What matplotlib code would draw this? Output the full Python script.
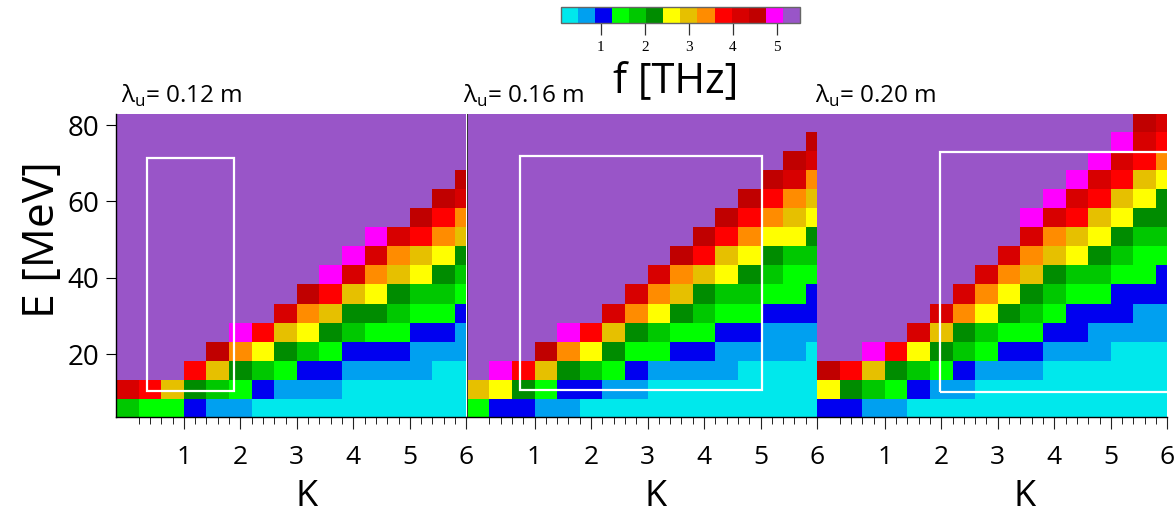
import numpy as np
import matplotlib
matplotlib.use('Agg')
import matplotlib.pyplot as plt
import matplotlib as mpl
from matplotlib.colors import ListedColormap, BoundaryNorm
from matplotlib.patches import Rectangle
from matplotlib.ticker import FixedLocator

plt.rcParams['font.family'] = ['Open Sans', 'DejaVu Sans']
plt.rcParams['mathtext.fontset'] = 'custom'
plt.rcParams['mathtext.rm'] = 'Open Sans'

# ---------------- data ----------------
K_values = [0.0, 0.4, 0.8, 1.2, 1.6, 2.0, 2.4, 2.8, 3.2, 3.6, 4.0, 4.4, 4.8, 5.2, 5.6, 6.0]
E_values = [6, 11, 16, 21, 26, 31, 36, 41, 46, 51, 56, 61, 66, 71, 76, 81]

# colour-bar bin edges (THz) and colours
f_edges = [0.09, 0.48, 0.87, 1.25, 1.64, 2.03, 2.42, 2.81, 3.20, 3.59, 3.98, 4.37, 4.75, 5.14, 5.53]
f_colors = ['#00E8EC', '#00A0F0', '#0000F0', '#00FF00', '#00C800', '#008C00', '#FFFF00',
            '#E6C000', '#FF8C00', '#FF0000', '#D80000', '#C00000', '#FF00FF', '#9955C8']
f_ticks = [1, 2, 3, 4, 5]

# frequency bin read per cell (rows from low E to high E; 0..9,a..d = bin index)
bins_012 = ["4332110000000000",
            "a975432111000000",
            "ddd9754322111100",
            "ddddb86543222111",
            "dddddc9765433221",
            "ddddddda87554332",
            "ddddddddb9765443",
            "dddddddddca87654",
            "ddddddddddca8765",
            "dddddddddddca987",
            "dddddddddddddb98",
            "ddddddddddddddba",
            "dddddddddddddddb",
            "dddddddddddddddd",
            "dddddddddddddddd",
            "dddddddddddddddd"]
bins_016 = ["3221100000000000",
            "7653221100000000",
            "dc97543211110000",
            "dddb865332211110",
            "ddddc97543322111",
            "dddddda865433222",
            "ddddddda87544332",
            "dddddddda8765433",
            "dddddddddb976544",
            "ddddddddddb98665",
            "dddddddddddb9876",
            "ddddddddddddb987",
            "dddddddddddddba8",
            "ddddddddddddddba",
            "dddddddddddddddb",
            "dddddddddddddddd"]
bins_020 = ["2211000000000000",
            "6543211000000000",
            "b975432111000000",
            "ddc9654322111000",
            "dddda75433221111",
            "ddddda8654322211",
            "dddddda865433222",
            "ddddddda87544332",
            "dddddddda8765433",
            "ddddddddda876544",
            "dddddddddca97655",
            "ddddddddddca9765",
            "dddddddddddca976",
            "ddddddddddddca98",
            "dddddddddddddca9",
            "ddddddddddddddba"]

panel_titles = ['0.12 m', '0.16 m', '0.20 m']
rect_K = [(0.35, 1.88), (0.74, 5.03), (1.97, 6.40)]
rect_E = [(10.4, 71.3), (10.6, 71.9), (10.0, 72.9)]

# ---------------- figure ----------------
W, H = 1176, 517
fig = plt.figure(figsize=(W / 100, H / 100), dpi=100)

cmap = ListedColormap(f_colors)
norm = BoundaryNorm(f_edges, cmap.N)
f_centers = [(f_edges[i] + f_edges[i + 1]) / 2 for i in range(len(f_colors))]


def to_freq(rows):
    return np.array([[f_centers[int(ch, 16)] for ch in r] for r in rows])


panels = [bins_012, bins_016, bins_020]
lefts = [116, 466.7, 817]
width = 350.3
title_x = [121, 463, 815]
k_label_x = [307, 656, 1025]

for i, rows in enumerate(panels):
    ax = fig.add_axes([lefts[i] / W, 1 - 417 / H, width / W, 303 / H])
    ax.patch.set_visible(False)
    F = to_freq(rows)
    ax.pcolormesh(K_values, E_values, F, shading='nearest', cmap=cmap, norm=norm,
                  edgecolor='face', linewidth=0.5, antialiased=False)
    ax.set_xlim(-0.2, 6.0)
    ax.set_ylim(3.5, 82.9)
    (k0, k1), (e0, e1) = rect_K[i], rect_E[i]
    ax.add_patch(Rectangle((k0, e0), k1 - k0, e1 - e0, fill=False,
                           edgecolor='white', linewidth=1.6, zorder=5))
    ax.set_xticks([1, 2, 3, 4, 5, 6])
    ax.set_xticklabels(['1', '2', '3', '4', '5', '6'])
    ax.xaxis.set_minor_locator(FixedLocator([k / 5 for k in range(1, 30) if k % 5]))
    ax.tick_params(axis='x', which='major', length=8.5, width=0.8, direction='out',
                   pad=12, labelsize=19, color='#222222')
    ax.tick_params(axis='x', which='minor', length=5, width=0.7, direction='out',
                   color='#222222')
    for s in ['top', 'right']:
        ax.spines[s].set_visible(False)
    ax.spines['bottom'].set_linewidth(1.0)
    if i == 0:
        ax.set_yticks([20, 40, 60, 80])
        ax.tick_params(axis='y', length=7, width=0.8, pad=5, labelsize=20)
        ax.spines['left'].set_linewidth(1.0)
    else:
        ax.set_yticks([])
        if i == 2:
            ax.spines['left'].set_visible(False)
        else:
            ax.spines['left'].set_linewidth(0.7)
            ax.spines['left'].set_color('#333333')
    fig.text(title_x[i] / W, 1 - 103 / H, r'λ$_\mathregular{u}$= ' + panel_titles[i],
             ha='left', va='baseline', fontsize=17.5)
    fig.text(k_label_x[i] / W, 1 - 506 / H, 'K', ha='center', va='baseline', fontsize=26)

fig.text(43 / W, 1 - 240 / H, 'E [MeV]', rotation=90, ha='center', va='center', fontsize=32)

# colour bar
cax = fig.add_axes([560.7 / W, 1 - 23.3 / H, 239.3 / W, 16.6 / H])
sm = mpl.cm.ScalarMappable(norm=norm, cmap=cmap)
cb = fig.colorbar(sm, cax=cax, orientation='horizontal', ticks=f_ticks)
cb.outline.set_edgecolor('#666666')
cb.outline.set_linewidth(1.0)
cax.tick_params(axis='x', length=8.5, width=0.9, color='#333333', pad=4, labelsize=11)
for t in cax.get_xticklabels():
    t.set_fontfamily('Liberation Serif')
cax.xaxis.set_minor_locator(FixedLocator([]))
fig.text(676 / W, 1 - 92 / H, 'f [THz]', ha='center', va='baseline', fontsize=30)

fig.savefig('out.png', dpi=100)
